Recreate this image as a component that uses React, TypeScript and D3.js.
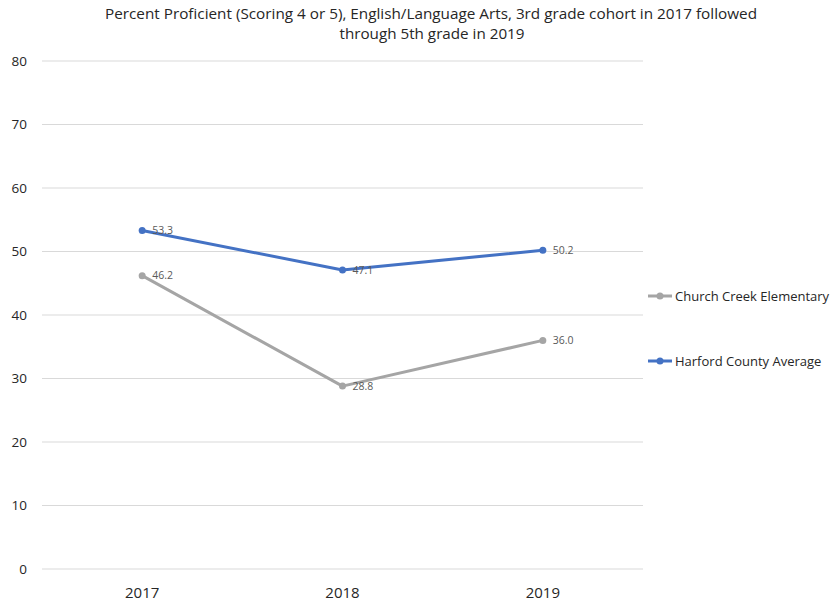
import { useEffect, useRef } from 'react'
import * as d3 from 'd3'

const years = ['2017', '2018', '2019']
const churchCreek = [46.2, 28.8, 36.0]
const harford = [53.3, 47.1, 50.2]
const yTicks = [0, 10, 20, 30, 40, 50, 60, 70, 80]
const seriesNames = ['Church Creek Elementary', 'Harford County Average']
const seriesColors = ['#A5A5A5', '#4472C4']

const FONT = 'Open Sans, sans-serif'

export default function App() {
  const svgRef = useRef<SVGSVGElement>(null)

  useEffect(() => {
    if (!svgRef.current) return
    const width = 832
    const height = 603
    const svg = d3.select(svgRef.current)
    svg.selectAll('*').remove()
    svg.attr('width', width).attr('height', height).style('font-family', FONT)

    const x = d3.scalePoint<string>().domain(years).range([42, 643]).padding(0.5)
    const y = d3.scaleLinear().domain([0, 80]).range([569, 61])

    // Title
    const title = svg.append('text')
      .attr('text-anchor', 'middle')
      .attr('font-size', 14.5)
      .attr('fill', '#262626')
    title.append('tspan').attr('x', 431).attr('y', 19)
      .attr('textLength', 652).attr('lengthAdjust', 'spacingAndGlyphs')
      .text('Percent Proficient (Scoring 4 or 5), English/Language Arts, 3rd grade cohort in 2017 followed')
    title.append('tspan').attr('x', 432).attr('y', 39)
      .attr('textLength', 185).attr('lengthAdjust', 'spacingAndGlyphs')
      .text('through 5th grade in 2019')

    // Gridlines
    svg.append('g').selectAll('line')
      .data(yTicks)
      .enter().append('line')
      .attr('x1', 42)
      .attr('x2', 643)
      .attr('y1', d => y(d))
      .attr('y2', d => y(d))
      .attr('stroke', '#D9D9D9')
      .attr('stroke-width', 1)

    // Y labels
    svg.append('g').selectAll('text')
      .data(yTicks)
      .enter().append('text')
      .attr('x', 27)
      .attr('y', d => y(d))
      .attr('dy', '0.35em')
      .attr('text-anchor', 'end')
      .attr('font-size', 13.5)
      .attr('fill', '#262626')
      .text(d => d)

    // X labels
    svg.append('g').selectAll('text')
      .data(years)
      .enter().append('text')
      .attr('x', d => x(d)!)
      .attr('y', 598)
      .attr('text-anchor', 'middle')
      .attr('font-size', 15)
      .attr('fill', '#262626')
      .text(d => d)

    const series = [churchCreek, harford]
    const line = d3.line<number>()
      .x((_, i) => x(years[i])!)
      .y(d => y(d))

    series.forEach((vals, si) => {
      const g = svg.append('g')
      g.append('path')
        .attr('d', line(vals))
        .attr('fill', 'none')
        .attr('stroke', seriesColors[si])
        .attr('stroke-width', 3)
        .attr('stroke-linejoin', 'round')
      g.selectAll('circle')
        .data(vals)
        .enter().append('circle')
        .attr('cx', (_, i) => x(years[i])!)
        .attr('cy', d => y(d))
        .attr('r', 3.5)
        .attr('fill', seriesColors[si])
      g.selectAll('text')
        .data(vals)
        .enter().append('text')
        .attr('x', (_, i) => x(years[i])! + 10)
        .attr('y', d => y(d))
        .attr('dy', '0.35em')
        .attr('font-size', 10.5)
        .attr('fill', '#595959')
        .text(d => d.toFixed(1))
    })

    // Legend
    const legendY = [296, 361]
    seriesNames.forEach((name, i) => {
      const lg = svg.append('g')
      lg.append('line')
        .attr('x1', 648).attr('x2', 672)
        .attr('y1', legendY[i]).attr('y2', legendY[i])
        .attr('stroke', seriesColors[i])
        .attr('stroke-width', 3)
      lg.append('circle')
        .attr('cx', 660).attr('cy', legendY[i]).attr('r', 3.5)
        .attr('fill', seriesColors[i])
      lg.append('text')
        .attr('x', 675)
        .attr('y', legendY[i])
        .attr('dy', '0.35em')
        .attr('font-size', 13)
        .attr('fill', '#262626')
        .text(name)
    })
  }, [])

  return <svg ref={svgRef} style={{ position: 'absolute', left: 0, top: 0 }} />
}
